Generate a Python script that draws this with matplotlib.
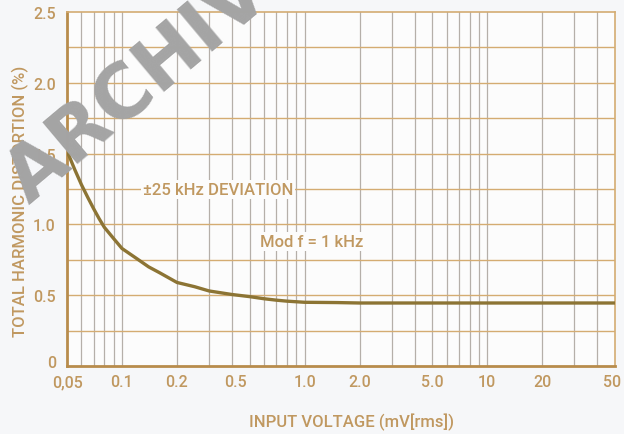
import matplotlib
matplotlib.use('Agg')
import matplotlib.pyplot as plt
import matplotlib.transforms as mtransforms
from matplotlib.ticker import FixedLocator, NullFormatter

# Curve
input_mv = [0.05, 0.055, 0.06, 0.065, 0.07, 0.075, 0.08, 0.09, 0.1, 0.12, 0.14, 0.16, 0.2,
            0.25, 0.3, 0.4, 0.5, 0.6, 0.7, 0.8, 1.0, 1.5, 2.0, 5.0, 10, 20, 50]
thd_pct = [1.52, 1.39, 1.28, 1.19, 1.11, 1.04, 0.98, 0.90, 0.83, 0.76, 0.70, 0.66, 0.59,
           0.56, 0.53, 0.505, 0.49, 0.475, 0.465, 0.458, 0.45, 0.448, 0.445, 0.445, 0.445, 0.445, 0.445]

x_ticks = [0.05, 0.1, 0.2, 0.5, 1.0, 2.0, 5.0, 10, 20, 50]
x_tick_labels = ['0,05', '0.1', '0.2', '0.5', '1.0', '2.0', '5.0', '10', '20', '50']
y_ticks = [0, 0.5, 1.0, 1.5, 2.0, 2.5]
y_tick_labels = ['0', '0.5', '1.0', '1.5', '2.0', '2.5']

tan = '#c09860'
hgrid = '#d4ac72'
vgrid = '#b5afa9'
curve_col = '#8c7434'

plt.rcParams['font.family'] = ['Roboto', 'DejaVu Sans']
plt.rcParams['font.weight'] = 'medium'

fig = plt.figure(figsize=(6.24, 4.35), dpi=100, facecolor='#f6f7f9')
ax = fig.add_axes([0.1074, 0.1563, 0.878, 0.8138])
ax.set_facecolor('#fcfcfc')

ax.set_xscale('log')
ax.set_xlim(0.05, 50)
ax.set_ylim(0, 2.5)

# vertical grid: every 1..9 step of each decade
minor = [m * d for d in [0.01, 0.1, 1, 10] for m in range(1, 10) if 0.05 < m * d < 50]
for v in minor:
    ax.axvline(v, color=vgrid, lw=0.9, zorder=1)
for h in [0.25, 0.5, 0.75, 1.0, 1.25, 1.5, 1.75, 2.0, 2.25]:
    ax.axhline(h, color=hgrid, lw=1.0, zorder=1)

ax.plot(input_mv, thd_pct, color=curve_col, lw=2.4, zorder=3, solid_capstyle='round')

ax.xaxis.set_major_locator(FixedLocator(x_ticks))
ax.xaxis.set_minor_locator(FixedLocator([]))
ax.xaxis.set_minor_formatter(NullFormatter())
ax.set_xticks(x_ticks)
ax.set_xticklabels(x_tick_labels)
ax.set_yticks(y_ticks)
ax.set_yticklabels(y_tick_labels)
ax.tick_params(axis='both', length=0, colors=tan, labelsize=11.5)
ax.tick_params(axis='x', pad=6)
ax.tick_params(axis='y', pad=8)

# small label offsets as in the original print
shifts = {'0.5': (-0.14, 0), '50': (-0.03, 0)}
for lbl in ax.get_xticklabels():
    if lbl.get_text() in shifts:
        dx, dy = shifts[lbl.get_text()]
        lbl.set_transform(lbl.get_transform() + mtransforms.ScaledTranslation(dx, dy, fig.dpi_scale_trans))
for lbl in ax.get_yticklabels():
    if lbl.get_text() == '0':
        lbl.set_transform(lbl.get_transform() + mtransforms.ScaledTranslation(0, 0.05, fig.dpi_scale_trans))

for side in ['top', 'right']:
    ax.spines[side].set_color(hgrid)
    ax.spines[side].set_linewidth(1.2)
for side in ['left', 'bottom']:
    ax.spines[side].set_color('#b88c4c')
    ax.spines[side].set_linewidth(2.0)

box = dict(facecolor='#fcfcfc', edgecolor='none', pad=1.5)
ax.text(0.336, 1.25, '\u00b125 kHz DEVIATION', color=tan, fontsize=12,
        ha='center', va='center', bbox=box, zorder=4)
ax.text(1.1, 0.88, 'Mod f = 1 kHz', color=tan, fontsize=12,
        ha='center', va='center', bbox=box, zorder=4)

fig.text(0.032, 0.536, 'TOTAL HARMONIC DISTORTION (%)', rotation=90, color=tan,
         fontsize=12, ha='center', va='center')
fig.text(0.564, 0.03, 'INPUT VOLTAGE (mV[rms])', color=tan, fontsize=12,
         ha='center', va='center')

# watermark
fig.text(29 / 624, 1 - 205 / 435, 'ARCHIVE', rotation=40, color='#a4a4a4', fontsize=54,
         fontweight='bold', family='DejaVu Sans', ha='left', va='baseline',
         zorder=10, rotation_mode='anchor')

fig.savefig('out.png', dpi=100, facecolor=fig.get_facecolor())
